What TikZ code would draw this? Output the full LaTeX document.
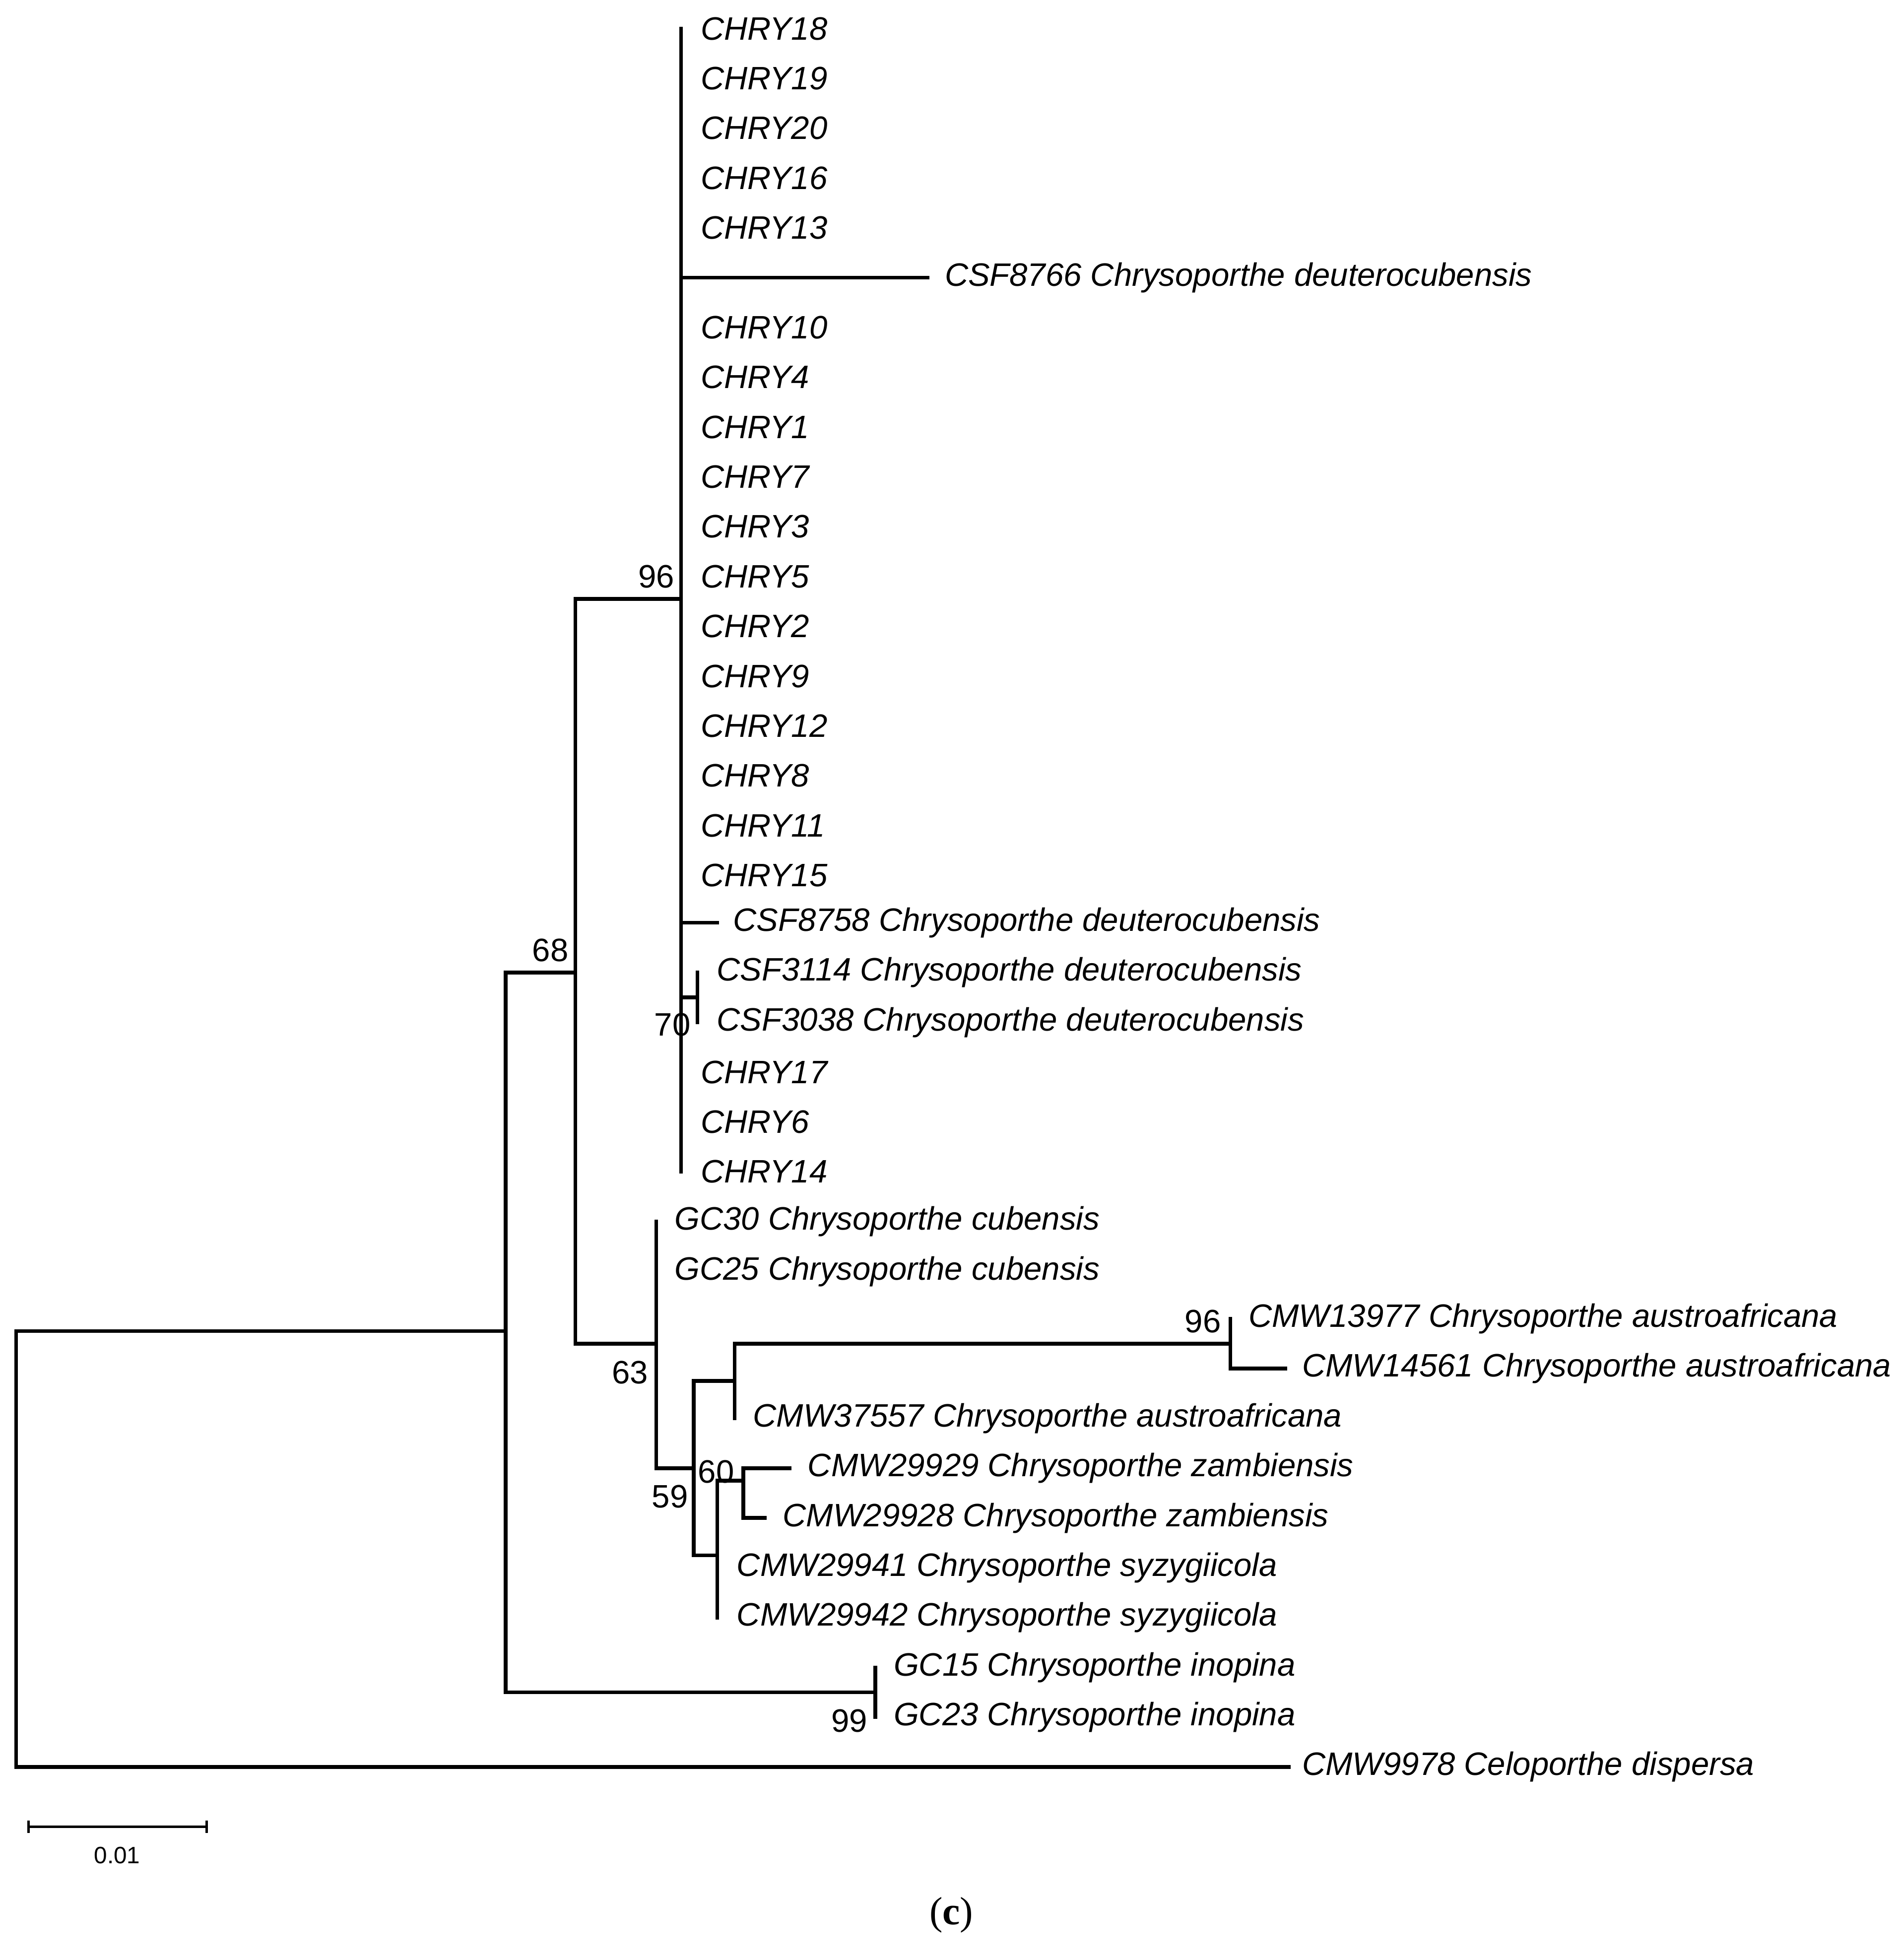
\documentclass[tikz,border=0pt]{standalone}
\usepackage{fontspec}
\setmainfont{Liberation Sans}
\newfontfamily\seriffont{Liberation Serif}
\begin{document}
\begin{tikzpicture}[x=0.01cm,y=-0.01cm,
  br/.style={line width=0.85pt,line cap=rect},
  lf/.style={anchor=west,inner sep=0pt,font=\fontsize{7.4}{8}\selectfont\itshape},
  bs/.style={inner sep=0pt,font=\fontsize{7.4}{8}\selectfont}]
\useasboundingbox (0,0) rectangle (1527,1574);
% coordinates of internal nodes
\coordinate (r) at (13,1069);
\coordinate (a) at (406,1069);
\coordinate (b) at (462,781);
\coordinate (c) at (547,481);
\coordinate (d) at (527,1079);
\coordinate (e) at (557,1179);
\coordinate (f) at (590,1109);
\coordinate (g) at (988,1079);
\coordinate (h) at (576,1249);
\coordinate (i) at (597,1189);
\coordinate (k) at (560,801);
\coordinate (m) at (703,1359);
% root
\draw[br] (13,1069) -- (13,1419) -- (1035,1419) coordinate (og);
\node[lf] (OG) at (1045,1419) {CMW9978 Celoporthe dispersa};
\draw[br] (r) -- (a);
\draw[br] (406,781) -- (406,1359);
\draw[br] (406,781) -- (b);
\node[bs] (n68) at (442,763) {68};
\draw[br] (462,481) -- (462,1079);
\draw[br] (462,481) -- (c);
\node[bs] (n96a) at (527,463) {96};
\draw[br] (547,23) -- (547,941);
\foreach \t/\y in {CHRY18/23,CHRY19/63,CHRY20/103,CHRY16/143,CHRY13/183,CHRY10/263,CHRY4/303,CHRY1/343,CHRY7/383,CHRY3/423,CHRY5/463,CHRY2/503,CHRY9/543,CHRY12/583,CHRY8/623,CHRY11/663,CHRY15/703,CHRY17/861,CHRY6/901,CHRY14/941}
  \node[lf] (\t) at (562,\y) {\t};
\draw[br] (547,223) -- (745,223);
\node[lf] (l8766) at (758,223) {CSF8766 Chrysoporthe deuterocubensis};
\draw[br] (547,741) -- (576,741);
\node[lf] (l8758) at (588,741) {CSF8758 Chrysoporthe deuterocubensis};
\draw[br] (547,801) -- (k);
\draw[br] (560,781) -- (560,821);
\node[lf] (l3114) at (575,781) {CSF3114 Chrysoporthe deuterocubensis};
\node[lf] (l3038) at (575,821) {CSF3038 Chrysoporthe deuterocubensis};
\node[bs] (n70) at (540,823) {70};
% cubensis clade
\draw[br] (462,1079) -- (d);
\node[bs] (n63) at (506,1102) {63};
\draw[br] (527,981) -- (527,1179);
\node[lf] (gc30) at (541,981) {GC30 Chrysoporthe cubensis};
\node[lf] (gc25) at (541,1021) {GC25 Chrysoporthe cubensis};
\draw[br] (527,1179) -- (e);
\node[bs] (n59) at (538,1202) {59};
\draw[br] (557,1109) -- (557,1249);
\draw[br] (557,1109) -- (f);
\draw[br] (590,1079) -- (590,1139);
\node[lf] (l37557) at (604,1139) {CMW37557 Chrysoporthe austroafricana};
\draw[br] (590,1079) -- (g);
\node[bs] (n96b) at (966,1061) {96};
\draw[br] (988,1059) -- (988,1099) -- (1032,1099);
\node[lf] (l13977) at (1002,1059) {CMW13977 Chrysoporthe austroafricana};
\node[lf] (l14561) at (1045,1099) {CMW14561 Chrysoporthe austroafricana};
\draw[br] (557,1249) -- (h);
\draw[br] (576,1189) -- (576,1299);
\node[bs] (n60) at (575,1182) {60};
\draw[br] (576,1189) -- (i);
\draw[br] (597,1179) -- (597,1219);
\draw[br] (597,1179) -- (634,1179);
\draw[br] (597,1219) -- (614,1219);
\node[lf] (l29929) at (648,1179) {CMW29929 Chrysoporthe zambiensis};
\node[lf] (l29928) at (628,1219) {CMW29928 Chrysoporthe zambiensis};
\node[lf] (l29941) at (591,1259) {CMW29941 Chrysoporthe syzygiicola};
\node[lf] (l29942) at (591,1299) {CMW29942 Chrysoporthe syzygiicola};
% inopina
\draw[br] (406,1359) -- (m);
\draw[br] (703,1339) -- (703,1379);
\node[lf] (gc15) at (717,1339) {GC15 Chrysoporthe inopina};
\node[lf] (gc23) at (717,1379) {GC23 Chrysoporthe inopina};
\node[bs] (n99) at (682,1382) {99};
% scale bar
\draw[line width=0.6pt] (23,1462) -- (23,1472) (23,1467) -- (166,1467) (166,1462) -- (166,1472);
\node[inner sep=0pt,font=\fontsize{5.4}{6}\selectfont] (sc) at (94,1490) {0.01};
\node[inner sep=0pt,font=\seriffont\fontsize{9}{10}\selectfont] (cap) at (764,1538) {(\textbf{c})};
\end{tikzpicture}
\end{document}
